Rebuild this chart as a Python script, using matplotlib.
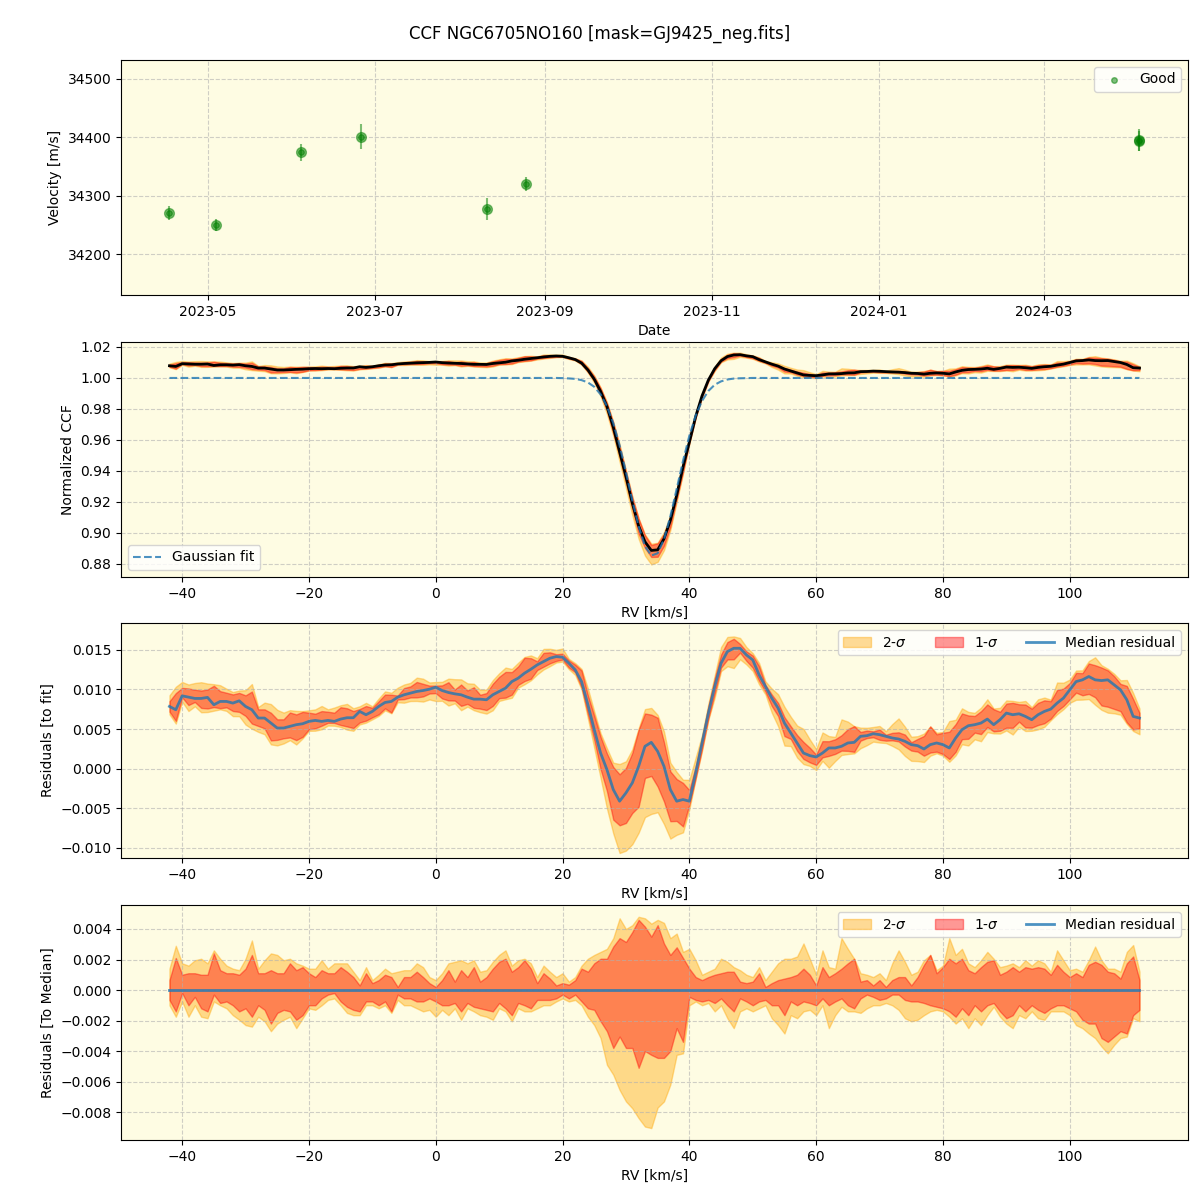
import numpy as np
import matplotlib.pyplot as plt
import matplotlib.dates as mdates
from datetime import datetime

# --- RV time series (top panel) ---
obs_dates = [datetime(2023, 4, 17), datetime(2023, 5, 4), datetime(2023, 6, 4),
             datetime(2023, 6, 26), datetime(2023, 8, 11), datetime(2023, 8, 25),
             datetime(2024, 4, 5), datetime(2024, 4, 5)]
obs_rv = [34270, 34250, 34374, 34401, 34277, 34320, 34395, 34393]
obs_err = [12, 10, 14, 22, 19, 12, 19, 17]

# --- CCF grid [km/s] ---
rv_grid = list(range(-42, 112))

gauss_fit = ([1.0] * 62 +
             [0.9999, 0.9997, 0.9994, 0.9986, 0.9971, 0.9943, 0.9894, 0.9818, 0.9709, 0.9565,   # 20..29
              0.9394, 0.9211, 0.9043, 0.8915, 0.8854, 0.8869, 0.8959, 0.9107, 0.9284, 0.9465,   # 30..39
              0.9627, 0.9757, 0.9852, 0.9916, 0.9956, 0.9978, 0.9990, 0.9996, 0.9998, 0.9999] + # 40..49
             [1.0] * 62)

# median residual to the fit, units of 1e-3
med_resid = [
    7.86, 7.44, 9.20, 9.03, 8.87, 8.87, 9.00, 8.07, 8.49, 8.49,     # -42..-33
    8.28, 8.57, 7.86, 7.44, 6.39, 6.39, 5.76, 5.13, 5.13, 5.34,     # -32..-23
    5.55, 5.67, 5.97, 6.09, 5.97, 6.09, 5.97, 6.26, 6.43, 6.43,     # -22..-13
    7.23, 6.81, 7.23, 7.86, 8.36, 8.49, 9.03, 9.33, 9.54, 9.75,     # -12..-3
    9.87, 10.04, 10.29, 9.87, 9.62, 9.45, 9.33, 9.03, 8.78, 8.78,   # -2..7
    8.70, 9.33, 9.75, 10.17, 11.00, 11.43, 12.06, 12.56, 13.11, 13.53,  # 8..17
    13.95, 14.16, 14.08, 13.32, 12.48, 11.00, 8.07, 4.92, 1.97, -0.13,  # 18..27
    -2.65, -4.12, -3.07, -1.81, 0.29, 2.82, 3.32, 2.18, 0.29, -2.65,    # 28..37
    -4.12, -3.91, -4.12, -0.55, 3.24, 7.02, 10.38, 13.32, 14.79, 15.21, # 38..47
    15.21, 14.37, 13.74, 11.85, 10.38, 8.91, 7.65, 5.76, 4.50, 3.24,    # 48..57
    1.97, 1.64, 1.47, 1.97, 2.61, 2.61, 2.82, 3.24, 3.32, 4.08,         # 58..67
    4.16, 4.41, 4.29, 4.08, 3.87, 3.74, 3.45, 3.03, 2.90, 2.48,         # 68..77
    3.03, 3.24, 3.03, 2.61, 3.87, 4.92, 5.42, 5.55, 5.76, 6.26,         # 78..87
    5.55, 6.18, 7.02, 6.81, 6.93, 6.60, 6.18, 6.81, 7.23, 7.52,         # 88..97
    8.28, 8.91, 9.96, 11.00, 11.22, 11.64, 11.22, 11.13, 11.22, 10.59,  # 98..107
    9.96, 8.70, 6.60, 6.39]                                              # 108..111

# spread around the median (units of 1e-3): upper/lower 2-sigma and 1-sigma
up2 = [
    1.4, 2.9, 1.75, 1.6, 1.95, 2.05, 1.75, 2.6, 2.05, 1.6,
    1.4, 1.3, 2.05, 3.25, 1.4, 1.95, 2.4, 2.3, 1.95, 2.05,
    1.75, 1.6, 1.4, 1.4, 1.95, 1.4, 1.75, 1.75, 1.75, 1.2,
    0.65, 1.5, 0.65, 1.0, 1.4, 1.1, 1.2, 1.3, 1.3, 1.75,
    1.5, 0.85, 0.65, 1.1, 1.75, 1.85, 1.95, 1.75, 1.95, 1.2,
    1.3, 1.85, 2.3, 2.6, 1.6, 1.95, 2.05, 1.75, 0.85, 1.6,
    1.2, 0.85, 1.1, 0.55, 0.85, 1.6, 2.05, 2.3, 2.5, 2.7,
    3.4, 4.7, 4.0, 4.25, 4.8, 4.7, 4.35, 4.6, 4.4, 3.4,
    3.7, 2.5, 2.7, 1.95, 1.0, 1.2, 1.4, 2.05, 1.85, 1.5,
    1.3, 1.0, 0.85, 1.5, 0.65, 1.2, 1.75, 2.05, 2.05, 2.2,
    3.05, 2.05, 1.0, 2.6, 1.5, 1.4, 3.4, 2.7, 2.05, 1.1,
    1.0, 0.85, 1.1, 0.65, 1.75, 2.6, 1.85, 1.0, 1.2, 1.95,
    2.3, 1.3, 1.6, 3.4, 2.3, 2.7, 1.75, 1.5, 1.95, 2.5,
    2.05, 1.5, 1.6, 1.75, 1.5, 1.95, 1.6, 1.95, 1.75, 1.2,
    2.6, 1.95, 1.3, 1.4, 1.2, 1.95, 2.85, 1.95, 1.4, 1.4,
    1.2, 2.5, 2.95, 1.2]
up1 = [
    0.65, 2.1, 1.0, 1.1, 1.1, 1.0, 1.0, 2.4, 1.3, 1.1,
    1.1, 1.0, 1.4, 2.3, 1.1, 1.1, 1.3, 1.1, 1.1, 1.75,
    1.3, 1.5, 1.1, 0.85, 1.3, 1.1, 1.1, 1.5, 1.2, 0.85,
    0.3, 1.1, 0.45, 0.65, 1.0, 0.85, 0.2, 0.85, 0.85, 1.2,
    0.85, 0.45, 0.2, 0.65, 1.3, 0.55, 1.3, 0.85, 1.5, 0.55,
    0.85, 1.4, 1.85, 2.05, 1.2, 1.5, 1.95, 1.4, 0.45, 1.1,
    0.75, 0.3, 0.45, 0.35, 0.65, 1.4, 1.2, 1.75, 2.05, 2.05,
    2.85, 3.4, 3.15, 3.8, 4.6, 4.15, 3.5, 4.25, 3.05, 2.3,
    2.8, 2.1, 1.4, 0.85, 0.65, 0.85, 1.0, 1.1, 1.2, 1.2,
    0.55, 0.45, 0.55, 1.1, 0.2, 0.45, 0.65, 0.75, 0.85, 1.0,
    1.4, 1.0, 0.3, 1.5, 0.85, 1.1, 1.4, 1.75, 2.05, 0.55,
    0.65, 0.3, 0.65, 0.2, 0.65, 0.85, 0.85, 0.3, 0.85, 1.65,
    2.3, 1.1, 1.5, 2.05, 1.75, 2.05, 1.3, 1.1, 1.5, 1.85,
    1.95, 1.0, 1.2, 1.5, 1.2, 1.5, 1.4, 1.5, 1.4, 1.0,
    1.65, 1.2, 0.85, 1.1, 0.85, 1.65, 1.85, 1.65, 1.2, 1.1,
    0.75, 1.75, 2.2, 0.65]
lo1 = [
    -0.65, -1.4, -0.2, -1.0, -0.45, -1.2, -1.4, -0.3, -0.85, -0.75,
    -1.0, -1.4, -1.2, -1.75, -1.0, -1.3, -2.2, -1.5, -1.3, -1.4,
    -1.95, -1.65, -1.0, -1.0, -0.55, -0.3, -0.2, -0.75, -1.1, -1.3,
    -1.4, -0.75, -0.75, -1.0, -0.75, -1.4, -0.3, -0.55, -0.55, -0.75,
    -0.75, -0.55, -0.75, -1.0, -1.0, -0.85, -1.4, -0.85, -1.1, -1.2,
    -1.3, -1.4, -0.85, -1.2, -1.65, -0.85, -1.0, -1.2, -0.65, -0.65,
    -0.65, -0.55, -0.3, -0.55, -0.3, -0.75, -1.2, -1.3, -2.05, -2.7,
    -3.8, -3.05, -3.8, -3.8, -5.1, -4.0, -4.25, -4.45, -4.45, -4.0,
    -2.5, -3.4, -0.45, -0.65, -0.75, -0.65, -0.85, -0.55, -1.0, -1.4,
    -0.55, -0.75, -1.0, -0.75, -0.65, -1.0, -1.0, -1.65, -0.75, -1.0,
    -0.75, -0.85, -1.0, -0.55, -1.0, -0.75, -0.55, -1.0, -1.2, -0.55,
    -0.3, -0.45, -0.65, -0.55, -0.3, -0.3, -0.65, -0.75, -0.75, -0.85,
    -1.0, -1.1, -1.2, -1.4, -1.75, -1.2, -1.65, -1.0, -1.4, -1.0,
    -0.85, -1.4, -1.85, -1.65, -1.0, -1.4, -1.0, -1.3, -1.5, -1.2,
    -1.0, -1.0, -1.2, -1.4, -1.95, -2.2, -2.2, -3.15, -3.4, -3.05,
    -2.7, -2.85, -1.65, -1.3]
lo2 = [
    -1.0, -1.75, -0.75, -1.75, -1.0, -1.75, -1.85, -0.75, -1.0, -1.2,
    -1.65, -1.95, -2.3, -2.4, -1.75, -2.05, -2.7, -2.2, -1.95, -1.75,
    -2.5, -1.85, -1.2, -1.3, -1.0, -0.65, -0.55, -1.0, -1.5, -1.65,
    -1.65, -1.0, -1.0, -1.2, -1.0, -1.5, -0.65, -1.0, -1.0, -1.2,
    -1.4, -1.3, -1.75, -1.3, -1.65, -1.2, -1.95, -1.2, -1.4, -1.65,
    -1.75, -1.95, -1.2, -1.4, -2.05, -1.2, -1.4, -1.4, -1.2, -1.0,
    -1.0, -0.75, -0.55, -0.75, -0.65, -1.0, -1.75, -2.3, -3.15, -4.9,
    -5.55, -6.55, -7.3, -7.75, -8.4, -8.95, -9.05, -7.7, -7.3, -6.2,
    -4.25, -4.15, -1.0, -0.75, -1.0, -0.85, -1.4, -1.0, -1.85, -2.5,
    -1.4, -1.2, -1.4, -1.2, -1.0, -1.85, -2.3, -2.85, -1.65, -1.85,
    -1.4, -1.3, -1.65, -1.0, -2.5, -1.65, -1.1, -1.4, -1.4, -1.5,
    -1.2, -1.0, -1.0, -0.85, -1.0, -1.3, -1.85, -2.05, -1.95, -1.65,
    -1.4, -1.3, -1.4, -1.75, -2.2, -1.85, -2.5, -1.85, -2.3, -1.65,
    -1.1, -1.75, -2.2, -2.5, -1.65, -1.85, -1.4, -1.85, -1.95, -1.4,
    -1.4, -1.4, -1.65, -2.3, -2.5, -2.85, -3.15, -3.7, -4.15, -3.6,
    -3.15, -3.05, -1.85, -2.05]

rv = np.array(rv_grid, dtype=float)
fit = np.array(gauss_fit)
res = np.array(med_resid) * 1e-3
u2 = np.array(up2) * 1e-3
u1 = np.array(up1) * 1e-3
l1 = np.array(lo1) * 1e-3
l2 = np.array(lo2) * 1e-3
ccf = fit + res

bg = '#fefce3'
grid_kw = dict(linestyle='--', color='#b0b0b0', alpha=0.6)

fig = plt.figure(figsize=(12, 12), dpi=100)
fig.suptitle('CCF NGC6705NO160 [mask=GJ9425_neg.fits]', fontsize=12, y=0.979)

left, width, h = 0.1008, 0.8892, 0.1958
ax1 = fig.add_axes([left, 0.7542, width, h])
ax2 = fig.add_axes([left, 0.5192, width, h])
ax3 = fig.add_axes([left, 0.285, width, h])
ax4 = fig.add_axes([left, 0.05, width, h])

# top: velocities
ax1.set_facecolor(bg)
ax1.errorbar(obs_dates, obs_rv, yerr=obs_err, fmt='o', color='green',
             alpha=0.5, ms=7, elinewidth=1.5, capsize=0)
ax1.scatter(obs_dates, obs_rv, s=16, color='green', alpha=0.5, label='Good', zorder=3)
ax1.set_ylim(34130, 34532)
ax1.xaxis.set_major_locator(mdates.MonthLocator(bymonth=[1, 3, 5, 7, 9, 11]))
ax1.xaxis.set_major_formatter(mdates.DateFormatter('%Y-%m'))
ax1.set_xlabel('Date')
ax1.set_ylabel('Velocity [m/s]')
ax1.grid(True, **grid_kw)
ax1.legend(loc='upper right')

# CCF panel
ax2.set_facecolor(bg)
ax2.fill_between(rv, ccf + l2, ccf + u2, color='orange', alpha=0.4)
ax2.fill_between(rv, ccf + l1, ccf + u1, color='red', alpha=0.4)
ax2.plot(rv, ccf, color='black', lw=2)
ax2.plot(rv, fit, '--', color='tab:blue', alpha=0.8, lw=1.5, label='Gaussian fit')
ax2.set_ylim(0.8716, 1.0232)
ax2.set_xlabel('RV [km/s]')
ax2.set_ylabel('Normalized CCF')
ax2.grid(True, **grid_kw)
ax2.legend(loc='lower left')

# residuals to fit
ax3.set_facecolor(bg)
ax3.fill_between(rv, res + l2, res + u2, color='orange', alpha=0.4, label='2-$\\sigma$')
ax3.fill_between(rv, res + l1, res + u1, color='red', alpha=0.4, label='1-$\\sigma$')
ax3.plot(rv, res, color='tab:blue', alpha=0.8, lw=2, label='Median residual')
ax3.set_ylim(-0.0113, 0.0184)
ax3.set_xlabel('RV [km/s]')
ax3.set_ylabel('Residuals [to fit]')
ax3.grid(True, **grid_kw)
ax3.legend(loc='upper right', ncol=3)

# residuals to median
ax4.set_facecolor(bg)
ax4.fill_between(rv, l2, u2, color='orange', alpha=0.4, label='2-$\\sigma$')
ax4.fill_between(rv, l1, u1, color='red', alpha=0.4, label='1-$\\sigma$')
ax4.plot(rv, np.zeros_like(rv), color='tab:blue', alpha=0.8, lw=2, label='Median residual')
ax4.set_ylim(-0.00983, 0.00557)
ax4.set_xlabel('RV [km/s]')
ax4.set_ylabel('Residuals [To Median]')
ax4.grid(True, **grid_kw)
ax4.legend(loc='upper right', ncol=3)

for ax in (ax2, ax3, ax4):
    ax.set_xlim(-49.65, 118.65)

fig.savefig('out.png', dpi=100)
